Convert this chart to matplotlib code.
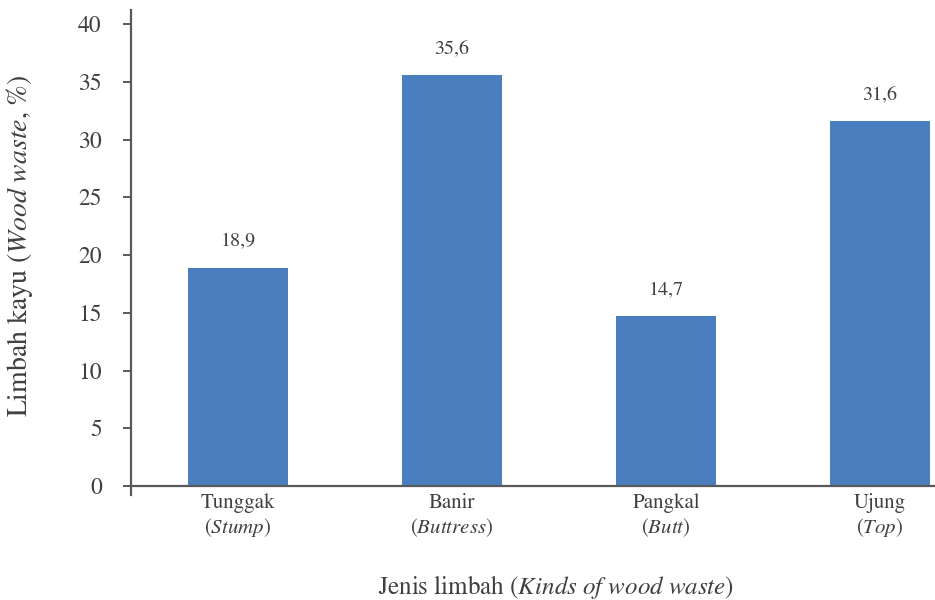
import matplotlib
matplotlib.use('Agg')
import matplotlib.pyplot as plt
from matplotlib import rcParams

rcParams['font.family'] = 'serif'
rcParams['font.serif'] = ['STIXGeneral', 'Liberation Serif', 'DejaVu Serif']
rcParams['mathtext.fontset'] = 'stix'

categories = ['Tunggak', 'Banir', 'Pangkal', 'Ujung']
english = ['Stump', 'Buttress', 'Butt', 'Top']
waste_pct = [18.9, 35.6, 14.7, 31.6]
yticks = [0, 5, 10, 15, 20, 25, 30, 35, 40]

TXT = '#404040'
AX = '#595959'
BAR = '#4A7EBF'

fig = plt.figure(figsize=(9.35, 6.0), dpi=100)
ax = fig.add_axes([131 / 935, 0.175, 856 / 935, 0.808])

x = list(range(len(categories)))
ax.bar(x, waste_pct, width=0.467, color=BAR, zorder=2)
for xi, v in zip(x, waste_pct):
    ax.annotate(f'{v:.1f}'.replace('.', ','), (xi, v), xytext=(0, 13),
                textcoords='offset points', ha='center', va='bottom',
                fontsize=14.5, color=TXT)

ax.set_xlim(-0.5, len(categories) - 0.5)
ax.set_ylim(-0.78, 41.2)
ax.set_yticks(yticks)
ax.set_yticklabels([str(t) for t in yticks])
ax.set_xticks(x)
ax.set_xticklabels([f'{c}\n($\\it{{{e}}}$)' for c, e in zip(categories, english)],
                   linespacing=1.5)

for s in ['top', 'right']:
    ax.spines[s].set_visible(False)
ax.spines['bottom'].set_position(('data', 0))
ax.spines['bottom'].set_zorder(3)
for s in ['left', 'bottom']:
    ax.spines[s].set_color(AX)
    ax.spines[s].set_linewidth(1.6)

ax.tick_params(axis='y', direction='out', length=6, width=1.4, color=AX,
               labelsize=17, labelcolor=TXT, pad=15)
ax.tick_params(axis='x', length=0, pad=5, labelsize=15, labelcolor=TXT)

ax.set_ylabel('Limbah kayu ($\\it{Wood\\ waste}$, %)', fontsize=20, color=TXT)
ax.yaxis.set_label_coords(-96 / 856, 0.515)
ax.set_xlabel('Jenis limbah ($\\it{Kinds\\ of\\ wood\\ waste}$)', fontsize=18, color=TXT)
ax.xaxis.set_label_coords((556 - 131) / 856, -0.16)

fig.savefig('out.png', dpi=100)
